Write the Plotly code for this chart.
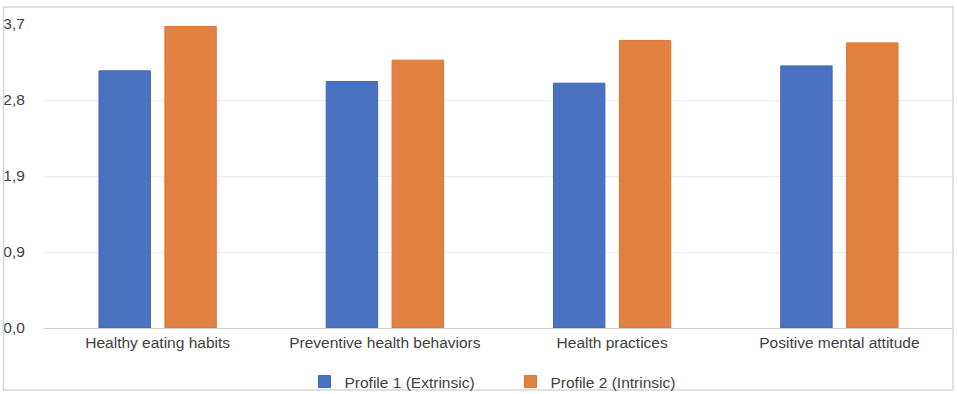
import plotly.graph_objects as go

categories = ["Healthy eating habits", "Preventive health behaviors", "Health practices", "Positive mental attitude"]
profile1 = [3.13, 3.00, 2.98, 3.19]
profile2 = [3.67, 3.26, 3.50, 3.47]
series_names = ["Profile 1 (Extrinsic)", "Profile 2 (Intrinsic)"]
tick_vals = [0, 0.925, 1.85, 2.775, 3.7]
tick_text = ["0,0", "0,9", "1,9", "2,8", "3,7"]

FONT = "Liberation Sans, Arial, sans-serif"
TEXT = "#404040"
FS = 15.5

fig = go.Figure()
fig.add_trace(go.Bar(x=categories, y=profile1, name=series_names[0],
                     marker=dict(color="#4A72C0", line=dict(color="#3E66B6", width=1))))
fig.add_trace(go.Bar(x=categories, y=profile2, name=series_names[1],
                     marker=dict(color="#E08142", line=dict(color="#DA7534", width=1))))

L, R, T, B = 44, 4, 24, 66
W, H = 957 - L - R, 394 - T - B

def px(x):
    return (x - L) / W

def py(y):
    return (394 - B - y) / H

fig.update_layout(
    width=957, height=394,
    margin=dict(l=L, r=R, t=T, b=B, autoexpand=False),
    paper_bgcolor="white", plot_bgcolor="white",
    font=dict(family=FONT, size=FS, color=TEXT),
    barmode="group", bargap=0.42, bargroupgap=0.22,
    showlegend=True,
    legend=dict(orientation="h", x=px(510.5), xanchor="center", y=py(382), yanchor="middle",
                font=dict(family=FONT, size=FS, color=TEXT), itemwidth=30,
                entrywidth=161, entrywidthmode="pixels",
                bgcolor="rgba(0,0,0,0)", traceorder="normal"),
    xaxis=dict(showgrid=False, showline=True, linecolor="#CFCFCF", linewidth=1,
               ticks="", tickfont=dict(family=FONT, size=FS, color=TEXT)),
    yaxis=dict(range=[0, 3.7], tickvals=tick_vals, ticktext=tick_text,
               showgrid=True, gridcolor="#EBEBEB", gridwidth=1, zeroline=False,
               showline=False, ticks="outside", ticklen=15, tickcolor="rgba(0,0,0,0)",
               tickfont=dict(family=FONT, size=FS, color=TEXT)),
    shapes=[dict(type="rect", xref="paper", yref="paper",
                 x0=px(3.5), x1=px(953), y0=py(390), y1=py(7),
                 line=dict(color="#D6D6D6", width=1.5), fillcolor="rgba(0,0,0,0)",
                 layer="above")],
)

fig.write_html("out.html", config={"displayModeBar": False},
               post_script="document.body.style.margin='0';document.body.style.overflow='hidden';")
